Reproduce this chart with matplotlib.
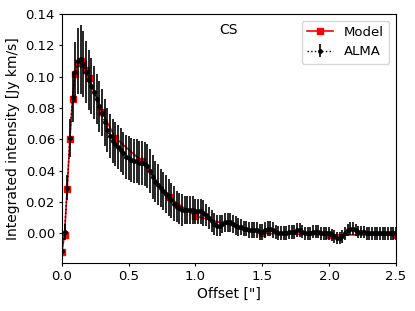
import matplotlib
matplotlib.use("Agg")
import matplotlib.pyplot as plt
import numpy as np

# model profile (red squares)
model_off = [0.0, 0.02, 0.04, 0.06, 0.08, 0.10, 0.12, 0.14, 0.16, 0.18, 0.20,
             0.3, 0.4, 0.6, 0.8, 1.0, 1.5, 2.0, 2.5]
model_int = [-0.012, -0.001, 0.028, 0.060, 0.086, 0.102, 0.109, 0.110, 0.108, 0.104, 0.099,
             0.0775, 0.061, 0.046, 0.023, 0.011, 0.000, -0.001, -0.001]

# ALMA radial profile, 0.02" steps from 0 to 2.5
alma_off = np.round(np.arange(0, 2.5001, 0.02), 2)
alma_int = [
    -0.011, 0.001, 0.029, 0.061, 0.087, 0.103, 0.110, 0.111, 0.108, 0.103,  # 0.00-0.18
    0.098, 0.094, 0.090, 0.086, 0.081, 0.077, 0.071, 0.066, 0.062, 0.059,   # 0.20-0.38
    0.057, 0.055, 0.053, 0.051, 0.049, 0.048, 0.047, 0.046, 0.046, 0.045,   # 0.40-0.58
    0.045, 0.044, 0.043, 0.040, 0.036, 0.033, 0.031, 0.029, 0.027, 0.025,   # 0.60-0.78
    0.023, 0.021, 0.019, 0.017, 0.016, 0.015, 0.015, 0.015, 0.015, 0.015,   # 0.80-0.98
    0.014, 0.014, 0.014, 0.013, 0.012, 0.010, 0.008, 0.006, 0.005, 0.005,   # 1.00-1.18
    0.006, 0.007, 0.007, 0.007, 0.006, 0.005, 0.004, 0.004, 0.003, 0.003,   # 1.20-1.38
    0.002, 0.002, 0.002, 0.002, 0.001, 0.001, 0.002, 0.003, 0.003, 0.002,   # 1.40-1.58
    0.001, 0.000, 0.000, 0.000, 0.000, 0.001, 0.001, 0.001, 0.002, 0.002,   # 1.60-1.78
    0.001, 0.000, 0.000, 0.000, 0.001, 0.001, 0.001, 0.000, 0.000, 0.000,   # 1.80-1.98
    0.000, -0.001, -0.002, -0.003, -0.003, -0.002, 0.000, 0.002, 0.003, 0.003,  # 2.00-2.18
    0.002, 0.001, 0.001, 0.001, 0.000, 0.000, 0.000, 0.000, 0.000, 0.000,   # 2.20-2.38
    0.000, 0.000, 0.000, 0.000, 0.000, 0.000,                               # 2.40-2.50
]
alma_err = [
    0.004, 0.005, 0.008, 0.012, 0.016, 0.019, 0.021, 0.022, 0.021, 0.020,
    0.019, 0.018, 0.017, 0.016, 0.016, 0.015, 0.015, 0.014, 0.014, 0.014,
    0.014, 0.014, 0.014, 0.014, 0.014, 0.014, 0.014, 0.014, 0.014, 0.014,
    0.014, 0.014, 0.014, 0.014, 0.014, 0.013, 0.013, 0.012, 0.012, 0.012,
    0.012, 0.011, 0.011, 0.010, 0.010, 0.010, 0.009, 0.009, 0.009, 0.009,
    0.008, 0.008, 0.008, 0.008, 0.007, 0.007, 0.007, 0.007, 0.007, 0.007,
    0.006, 0.006, 0.006, 0.006, 0.006, 0.006, 0.006, 0.005, 0.005, 0.005,
    0.005, 0.005, 0.005, 0.005, 0.005, 0.005, 0.005, 0.005, 0.005, 0.005,
    0.0045, 0.0045, 0.0045, 0.0045, 0.0045, 0.0045, 0.0045, 0.0045, 0.0045, 0.0045,
    0.0042, 0.0042, 0.0042, 0.0042, 0.0042, 0.0042, 0.0042, 0.0042, 0.0042, 0.0042,
    0.004, 0.004, 0.004, 0.004, 0.004, 0.004, 0.004, 0.004, 0.004, 0.004,
    0.004, 0.004, 0.004, 0.004, 0.004, 0.004, 0.004, 0.004, 0.004, 0.004,
    0.004, 0.004, 0.004, 0.004, 0.004, 0.004,
]

fig = plt.figure(figsize=(4.15, 3.11), dpi=100)
ax = fig.add_axes([0.149, 0.154, 0.805, 0.801])

ax.plot(model_off, model_int, 'r-', marker='s', markersize=4.5, lw=1.2, label='Model', zorder=2)
ax.errorbar(alma_off, alma_int, yerr=alma_err, fmt='k:', marker='o', markersize=2.5,
            elinewidth=1.2, lw=1.0, label='ALMA', zorder=3)

ax.text(1.25, 0.13, 'CS', ha='center', va='center', fontsize=10)

ax.set_xlim(0, 2.5)
ax.set_ylim(-0.019, 0.14)
ax.set_xticks([0.0, 0.5, 1.0, 1.5, 2.0, 2.5])
ax.set_yticks(np.arange(0, 0.1401, 0.02))
ax.tick_params(labelsize=9.5, length=2.5, pad=2.5)
ax.set_xlabel('Offset ["]', fontsize=10, labelpad=3)
ax.set_ylabel('Integrated intensity [Jy km/s]', fontsize=10, labelpad=4)
ax.legend(loc='upper right', fontsize=9.5)

fig.savefig('out.png', dpi=100)
